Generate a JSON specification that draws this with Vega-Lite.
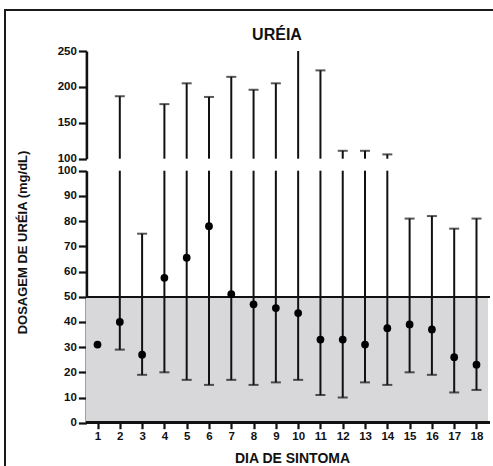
{
  "$schema": "https://vega.github.io/schema/vega-lite/v6.json",
  "width": 492,
  "height": 460,
  "autosize": "none",
  "padding": {"left": 5, "top": 10, "right": -4, "bottom": -4},
  "background": "white",
  "config": {
    "font": "Liberation Sans",
    "view": {"stroke": "#1a1a1a", "strokeWidth": 2},
    "axis": {
      "grid": false,
      "domainColor": "#111",
      "domainWidth": 2.6,
      "tickColor": "#111",
      "tickWidth": 2.2,
      "labelFont": "Liberation Sans",
      "labelFontWeight": "bold",
      "labelFontSize": 11.5,
      "labelColor": "#111",
      "titleFont": "Liberation Sans",
      "titleFontWeight": "bold",
      "titleColor": "#111"
    }
  },
  "title": {
    "text": "URÉIA",
    "font": "Liberation Sans",
    "fontSize": 16,
    "fontWeight": "bold",
    "color": "#111",
    "anchor": "middle",
    "dx": 26,
    "dy": 37
  },
  "data": {
    "values": [
      {"dia": 1, "ureia": 31, "minimo": null, "maximo": null},
      {"dia": 2, "ureia": 40, "minimo": 29, "maximo": 187},
      {"dia": 3, "ureia": 27, "minimo": 19, "maximo": 75},
      {"dia": 4, "ureia": 57.5, "minimo": 20, "maximo": 176},
      {"dia": 5, "ureia": 65.5, "minimo": 17, "maximo": 205},
      {"dia": 6, "ureia": 78, "minimo": 15, "maximo": 186},
      {"dia": 7, "ureia": 51, "minimo": 17, "maximo": 214},
      {"dia": 8, "ureia": 47, "minimo": 15, "maximo": 196},
      {"dia": 9, "ureia": 45.5, "minimo": 16, "maximo": 205},
      {"dia": 10, "ureia": 43.5, "minimo": 17, "maximo": 255},
      {"dia": 11, "ureia": 33, "minimo": 11, "maximo": 223},
      {"dia": 12, "ureia": 33, "minimo": 10, "maximo": 111},
      {"dia": 13, "ureia": 31, "minimo": 16, "maximo": 111},
      {"dia": 14, "ureia": 37.5, "minimo": 15, "maximo": 106},
      {"dia": 15, "ureia": 39, "minimo": 20, "maximo": 81},
      {"dia": 16, "ureia": 37, "minimo": 19, "maximo": 82},
      {"dia": 17, "ureia": 26, "minimo": 12, "maximo": 77},
      {"dia": 18, "ureia": 23, "minimo": 13, "maximo": 81}
    ]
  },
  "encoding": {
    "x": {
      "field": "dia",
      "type": "quantitative",
      "scale": {"domain": [-3.15, 18.92], "nice": false, "zero": false},
      "axis": {
        "orient": "bottom",
        "offset": -47.3,
        "domain": false,
        "values": [1, 2, 3, 4, 5, 6, 7, 8, 9, 10, 11, 12, 13, 14, 15, 16, 17, 18],
        "tickSize": 6,
        "labelPadding": 2,
        "title": "DIA DE SINTOMA",
        "titleFontSize": 14,
        "titleX": 287,
        "titleY": 35.5,
        "titleBaseline": "middle"
      }
    }
  },
  "layer": [
    {
      "encoding": {
        "y": {
          "type": "quantitative",
          "scale": {"domain": [100, 250], "range": [148.7, 41], "clamp": true, "nice": false, "zero": false},
          "axis": {
            "orient": "left",
            "offset": -81.4,
            "values": [100, 150, 200, 250],
            "tickSize": 8,
            "labelPadding": 2,
            "title": null
          }
        }
      },
      "layer": [
        {
          "transform": [{"filter": "datum.maximo > 100"}],
          "mark": {"type": "rule", "color": "#111", "strokeWidth": 2},
          "encoding": {
            "y": {"field": "minimo", "type": "quantitative"},
            "y2": {"field": "maximo"}
          }
        },
        {
          "transform": [{"filter": "datum.maximo > 100 && datum.maximo <= 250"}],
          "mark": {"type": "tick", "orient": "horizontal", "color": "#111", "size": 10, "thickness": 2},
          "encoding": {
            "y": {"field": "maximo", "type": "quantitative"}
          }
        }
      ]
    },
    {
      "encoding": {
        "y": {
          "type": "quantitative",
          "scale": {"domain": [0, 100], "range": [412.7, 160.7], "clamp": true, "nice": false, "zero": false},
          "axis": {
            "orient": "left",
            "offset": -81.4,
            "values": [0, 10, 20, 30, 40, 50, 60, 70, 80, 90, 100],
            "tickSize": 8,
            "labelPadding": 2,
            "title": "DOSAGEM DE URÉIA (mg/dL)",
            "titleFontSize": 13,
            "titleAngle": 270,
            "titleAlign": "center",
            "titleBaseline": "middle",
            "titleX": -64.3,
            "titleY": 232
          }
        }
      },
      "layer": [
        {
          "mark": {"type": "rect", "color": "#d8d8da"},
          "encoding": {
            "x": {"datum": 0.5},
            "x2": {"datum": 18.5},
            "y": {"datum": 0, "type": "quantitative"},
            "y2": {"datum": 50}
          }
        },
        {
          "mark": {"type": "rule", "color": "#111", "strokeWidth": 1.6},
          "encoding": {
            "x": {"datum": 0.5},
            "x2": {"datum": 18.6},
            "y": {"datum": 50, "type": "quantitative"}
          }
        },
        {
          "mark": {"type": "rule", "color": "#111", "strokeWidth": 2.6},
          "encoding": {
            "x": {"datum": 0.5},
            "x2": {"datum": 18.6},
            "y": {"datum": 0, "type": "quantitative"}
          }
        },
        {
          "transform": [{"filter": "datum.maximo != null"}],
          "mark": {"type": "rule", "color": "#111", "strokeWidth": 2},
          "encoding": {
            "y": {"field": "minimo", "type": "quantitative"},
            "y2": {"field": "maximo"}
          }
        },
        {
          "transform": [{"filter": "datum.minimo != null"}],
          "mark": {"type": "tick", "orient": "horizontal", "color": "#111", "size": 10, "thickness": 2},
          "encoding": {
            "y": {"field": "minimo", "type": "quantitative"}
          }
        },
        {
          "transform": [{"filter": "datum.maximo != null && datum.maximo <= 100"}],
          "mark": {"type": "tick", "orient": "horizontal", "color": "#111", "size": 10, "thickness": 2},
          "encoding": {
            "y": {"field": "maximo", "type": "quantitative"}
          }
        },
        {
          "mark": {"type": "circle", "color": "#000", "opacity": 1, "size": 60},
          "encoding": {
            "y": {"field": "ureia", "type": "quantitative"}
          }
        }
      ]
    }
  ],
  "resolve": {"scale": {"y": "independent"}, "axis": {"y": "independent"}}
}
